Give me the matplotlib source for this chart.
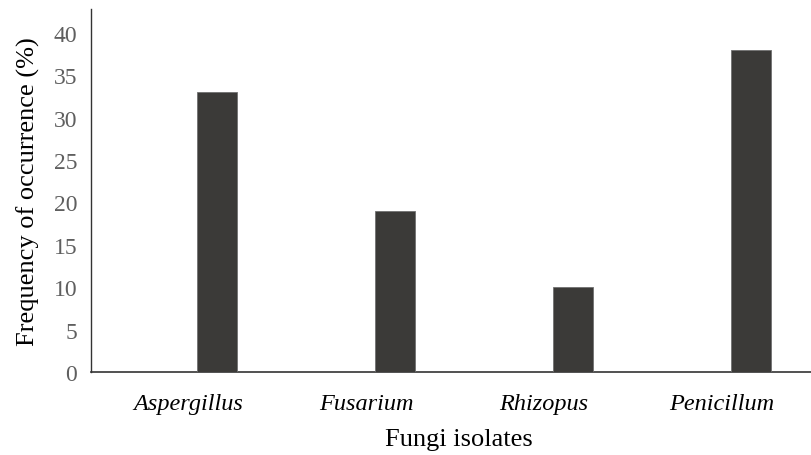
import matplotlib
matplotlib.use("Agg")
import matplotlib.pyplot as plt
import numpy as np

categories = ["Aspergillus", "Fusarium", "Rhizopus", "Penicillum"]
values = [33, 19, 10, 38]
yticks = [0, 5, 10, 15, 20, 25, 30, 35, 40]

plt.rcParams['font.family'] = ['Liberation Serif', 'DejaVu Serif']

fig = plt.figure(figsize=(8.11, 4.56), dpi=100)
ax = fig.add_axes([91/811, 83/456, 1 - 91/811, (373-10)/456])

x = np.arange(len(categories))
ax.bar(x + 0.163, values, width=0.225, color="#3b3a38", edgecolor="#707070", linewidth=0.6, zorder=3)

ax.set_xlim(-0.545, 3.5)
ax.set_ylim(0, 42.8)
ax.set_yticks(yticks)
ax.set_yticklabels([str(t) for t in yticks], fontsize=17, color="#5f5f5f")
ax.set_xticks(x)
ax.set_xticklabels(categories, fontsize=17.5, style="italic", color="black")
ax.tick_params(axis="both", length=0)
ax.tick_params(axis="y", pad=10)
ax.tick_params(axis="x", pad=15)

for s in ["top", "right"]:
    ax.spines[s].set_visible(False)
ax.spines["left"].set_color("#333333")
ax.spines["left"].set_linewidth(1.0)
ax.spines["bottom"].set_color("#333333")
ax.spines["bottom"].set_linewidth(1.2)

ax.set_xlabel("Fungi isolates", fontsize=19, labelpad=11)
ax.xaxis.set_label_coords((459 - 91) / 720, -0.1)
ax.xaxis.label.set_verticalalignment("center")
ax.xaxis.set_label_coords((459 - 91) / 720, -(440 - 373) / 363)
ax.set_ylabel("Frequency of occurrence (%)", fontsize=19, labelpad=10)

fig.savefig("out.png", dpi=100)
